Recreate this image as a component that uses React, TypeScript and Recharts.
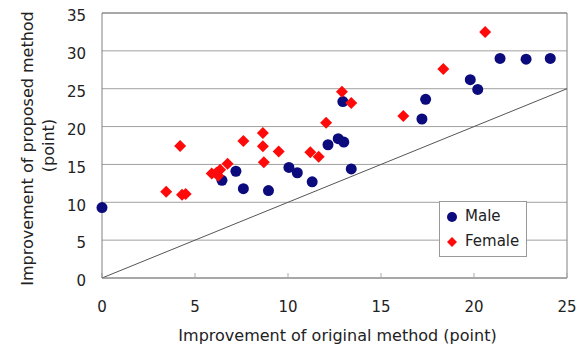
import {
  CartesianGrid,
  Label,
  Legend,
  ReferenceLine,
  Scatter,
  ScatterChart,
  XAxis,
  YAxis,
} from 'recharts'

const xTicks = [0, 5, 10, 15, 20, 25]
const yTicks = [0, 5, 10, 15, 20, 25, 30, 35]

const male = [
  { x: 0, y: 9.3 },
  { x: 6.45, y: 12.9 },
  { x: 7.2, y: 14.1 },
  { x: 7.6, y: 11.8 },
  { x: 8.95, y: 11.55 },
  { x: 10.05, y: 14.6 },
  { x: 10.5, y: 13.9 },
  { x: 11.3, y: 12.7 },
  { x: 12.15, y: 17.6 },
  { x: 12.7, y: 18.4 },
  { x: 13.0, y: 17.95 },
  { x: 13.4, y: 14.4 },
  { x: 12.95, y: 23.3 },
  { x: 17.2, y: 21.0 },
  { x: 17.4, y: 23.6 },
  { x: 19.8, y: 26.2 },
  { x: 20.2, y: 24.9 },
  { x: 21.4, y: 29.0 },
  { x: 22.8, y: 28.9 },
  { x: 24.1, y: 29.0 },
]

const female = [
  { x: 3.45, y: 11.4 },
  { x: 4.2, y: 17.45 },
  { x: 4.3, y: 11.0 },
  { x: 4.5, y: 11.1 },
  { x: 5.9, y: 13.8 },
  { x: 6.15, y: 13.9 },
  { x: 6.35, y: 14.3 },
  { x: 6.25, y: 13.5 },
  { x: 6.75, y: 15.1 },
  { x: 7.6, y: 18.1 },
  { x: 8.65, y: 19.15 },
  { x: 8.65, y: 17.4 },
  { x: 8.7, y: 15.3 },
  { x: 9.5, y: 16.7 },
  { x: 11.2, y: 16.6 },
  { x: 11.65, y: 16.0 },
  { x: 12.05, y: 20.5 },
  { x: 12.9, y: 24.6 },
  { x: 13.4, y: 23.1 },
  { x: 16.2, y: 21.4 },
  { x: 18.35, y: 27.6 },
  { x: 20.6, y: 32.5 },
]

const NAVY = '#0b0b7e'
const RED = '#ff0a0a'
const FONT = '"DejaVu Sans", sans-serif'
const TEXT = '#222'

const Diamond = ({ cx, cy, fill }: any) => (
  <path d={`M${cx},${cy - 6}L${cx + 6},${cy}L${cx},${cy + 6}L${cx - 6},${cy}Z`} fill={fill} />
)

const Dot = ({ cx, cy, fill }: any) => <circle cx={cx} cy={cy} r={5.5} fill={fill} />

const LegendBox = () => (
  <div
    style={{
      border: '1px solid #999',
      background: '#fff',
      fontFamily: FONT,
      fontSize: 15,
      color: TEXT,
      padding: '2px 0 2px 6px',
      lineHeight: '25px',
    }}
  >
    <div style={{ display: 'flex', alignItems: 'center' }}>
      <svg width={14} height={14} style={{ marginRight: 5 }}>
        <circle cx={6} cy={7} r={5} fill={NAVY} />
      </svg>
      Male
    </div>
    <div style={{ display: 'flex', alignItems: 'center' }}>
      <svg width={14} height={14} style={{ marginRight: 5 }}>
        <path d="M6,2L11,7L6,12L1,7Z" fill={RED} />
      </svg>
      Female
    </div>
  </div>
)

export default function App() {
  return (
    <div style={{ position: 'absolute', left: 0, top: 0, background: '#fff' }}>
      <ScatterChart width={585} height={350} margin={{ top: 13, right: 18, bottom: 0, left: 0 }}>
        <CartesianGrid vertical={false} stroke="#a0a0a0" />
        <XAxis
          type="number"
          dataKey="x"
          domain={[0, 25]}
          ticks={xTicks}
          height={72}
          stroke="#808080"
          tickSize={-5}
          tickMargin={28}
          tickLine={{ stroke: '#aaa' }}
          tick={{ fill: TEXT, fontSize: 15, fontFamily: FONT }}
        >
          <Label
            value="Improvement of original method (point)"
            position="insideBottom"
            offset={9}
            fill={TEXT}
            fontSize={16}
            fontFamily={FONT}
            dx={3}
          />
        </XAxis>
        <YAxis
          type="number"
          dataKey="y"
          domain={[0, 35]}
          ticks={yTicks}
          width={102}
          stroke="#808080"
          tickLine={false}
          tickSize={0}
          tickMargin={16}
          dy={3}
          tick={{ fill: TEXT, fontSize: 15, fontFamily: FONT }}
        >
          <Label
            value="Improvement of proposed method"
            position="center"
            angle={-90}
            dx={-24}
            dy={3}
            fill={TEXT}
            fontSize={16}
            fontFamily={FONT}
          />
          <Label
            value="(point)"
            position="center"
            angle={-90}
            dx={-3}
            dy={0}
            fill={TEXT}
            fontSize={16}
            fontFamily={FONT}
          />
        </YAxis>
        <ReferenceLine y={35} stroke="#808080" />
        <ReferenceLine x={25} stroke="#808080" />
        <ReferenceLine
          segment={[
            { x: 0, y: 0 },
            { x: 25, y: 25 },
          ]}
          stroke="#555"
          strokeWidth={1}
        />
        <Scatter name="Male" data={male} fill={NAVY} shape={Dot} isAnimationActive={false} />
        <Scatter name="Female" data={female} fill={RED} shape={Diamond} isAnimationActive={false} />
        <Legend
          layout="vertical"
          align="center"
          verticalAlign="middle"
          content={LegendBox}
          wrapperStyle={{ position: 'absolute', left: 439, top: 201, width: 88 }}
        />
      </ScatterChart>
    </div>
  )
}
